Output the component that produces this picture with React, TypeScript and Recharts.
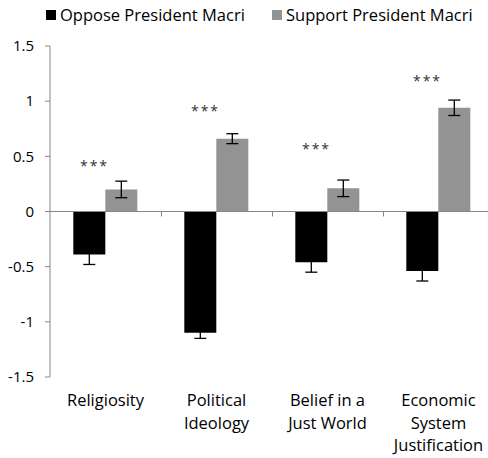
import React from 'react';
import {
  ComposedChart,
  Bar,
  XAxis,
  YAxis,
  ErrorBar,
  ReferenceLine,
  ReferenceDot,
  Legend,
} from 'recharts';

// Measures compared between the two groups
const categories = [
  'Religiosity',
  'Political Ideology',
  'Belief in a Just World',
  'Economic System Justification',
];

// Category labels broken into the lines drawn under the axis
const categoryLines = [
  ['Religiosity'],
  ['Political', 'Ideology'],
  ['Belief in a', 'Just World'],
  ['Economic', 'System', 'Justification'],
];

// Standardized means and their error margins
const opposeMeans = [-0.39, -1.1, -0.46, -0.54];
const opposeErrors = [0.09, 0.05, 0.09, 0.09];
const supportMeans = [0.2, 0.66, 0.21, 0.94];
const supportErrors = [0.075, 0.045, 0.075, 0.07];

// Height at which the significance stars sit for each measure
const significanceLevels = [0.44, 0.94, 0.59, 1.21];
const significanceMark = '***';

// Value axis ticks
const yTicks = [-1.5, -1, -0.5, 0, 0.5, 1, 1.5];

const FONT = '"Open Sans", sans-serif';
const OPPOSE_COLOR = '#000000';
const SUPPORT_COLOR = '#939393';
const AXIS_COLOR = '#868686';

const data = categories.map((category, i) => ({
  category,
  oppose: opposeMeans[i],
  opposeErr: opposeErrors[i],
  support: supportMeans[i],
  supportErr: supportErrors[i],
}));

// Pairs of neighbouring categories; a small tick marks the border between them
const neighbourPairs = categories.slice(1).map((c, i) => [categories[i], c]);

const CategoryTick = (props: any) => {
  const { x, y, payload } = props;
  const lines = categoryLines[payload.index] ?? [String(payload.value)];
  return (
    <text
      x={x}
      y={y}
      textAnchor="middle"
      fontFamily={FONT}
      fontSize={16.5}
      fill="#000"
    >
      {lines.map((line, i) => (
        <tspan key={i} x={x} dy={i === 0 ? 29 : 22.5}>
          {line}
        </tspan>
      ))}
    </text>
  );
};

// Draws a short downward tick halfway between two category centres on the zero line
const BorderTick = (props: any) => {
  const { x1, y1, x2 } = props;
  const mid = Math.round((x1 + x2) / 2) + 0.5;
  return (
    <line
      x1={mid}
      y1={y1}
      x2={mid}
      y2={y1 + 5}
      stroke={AXIS_COLOR}
      strokeWidth={1}
    />
  );
};

const renderLegend = (props: any) => {
  const { payload } = props;
  return (
    <div
      style={{
        position: 'absolute',
        left: 0,
        top: 0,
        display: 'flex',
        alignItems: 'center',
        paddingLeft: 46,
        paddingTop: 4,
        fontFamily: FONT,
        fontSize: 16.5,
        lineHeight: '22px',
        color: '#000',
        whiteSpace: 'nowrap',
      }}
    >
      {payload.map((entry: any, i: number) => (
        <div
          key={i}
          style={{ display: 'flex', alignItems: 'center', width: 226 }}
        >
          <span
            style={{
              display: 'inline-block',
              width: 10,
              height: 10,
              background: entry.color,
              marginRight: 4,
            }}
          />
          <span>{entry.value}</span>
        </div>
      ))}
    </div>
  );
};

const renderStars = (props: any) => {
  const { cx, cy } = props;
  return (
    <text
      x={cx - 11}
      y={cy + 8}
      textAnchor="middle"
      fontFamily={FONT}
      fontSize={14}
      letterSpacing={2}
      fill="#333"
    >
      {significanceMark}
    </text>
  );
};

export default function App() {
  return (
    <div
      style={{
        position: 'absolute',
        left: 0,
        top: 0,
        width: 488,
        height: 458,
        overflow: 'hidden',
        background: '#fff',
      }}
    >
      <ComposedChart
        width={494}
        height={458}
        data={data}
        margin={{ top: 46, right: 0, bottom: 0, left: 0 }}
        barCategoryGap="21%"
        barGap={0}
      >
        <Legend
          verticalAlign="top"
          content={renderLegend}
          wrapperStyle={{ top: 0, left: 0, height: 0 }}
        />
        <XAxis
          dataKey="category"
          type="category"
          axisLine={false}
          tickLine={false}
          tickSize={0}
          tickMargin={0}
          height={81}
          interval={0}
          tick={<CategoryTick />}
        />
        <YAxis
          type="number"
          domain={[-1.5, 1.5]}
          ticks={yTicks}
          interval={0}
          width={50}
          tickSize={5}
          tickMargin={11}
          axisLine={{ stroke: AXIS_COLOR }}
          tickLine={{ stroke: AXIS_COLOR }}
          tick={{ fill: '#000', fontSize: 15, fontFamily: FONT }}
        />
        <ReferenceLine y={0} stroke={AXIS_COLOR} strokeWidth={1} />
        {neighbourPairs.map(([a, b]) => (
          <ReferenceLine
            key={a}
            segment={[
              { x: a, y: 0 },
              { x: b, y: 0 },
            ]}
            shape={BorderTick}
          />
        ))}
        <Bar
          dataKey="oppose"
          name="Oppose President Macri"
          fill={OPPOSE_COLOR}
          isAnimationActive={false}
        >
          <ErrorBar
            dataKey="opposeErr"
            direction="y"
            width={6}
            stroke="#000"
            strokeWidth={1.3}
          />
        </Bar>
        <Bar
          dataKey="support"
          name="Support President Macri"
          fill={SUPPORT_COLOR}
          isAnimationActive={false}
        >
          <ErrorBar
            dataKey="supportErr"
            direction="y"
            width={6}
            stroke="#000"
            strokeWidth={1.3}
          />
        </Bar>
        {categories.map((c, i) => (
          <ReferenceDot
            key={c}
            x={c}
            y={significanceLevels[i]}
            r={0}
            shape={renderStars}
          />
        ))}
      </ComposedChart>
    </div>
  );
}
